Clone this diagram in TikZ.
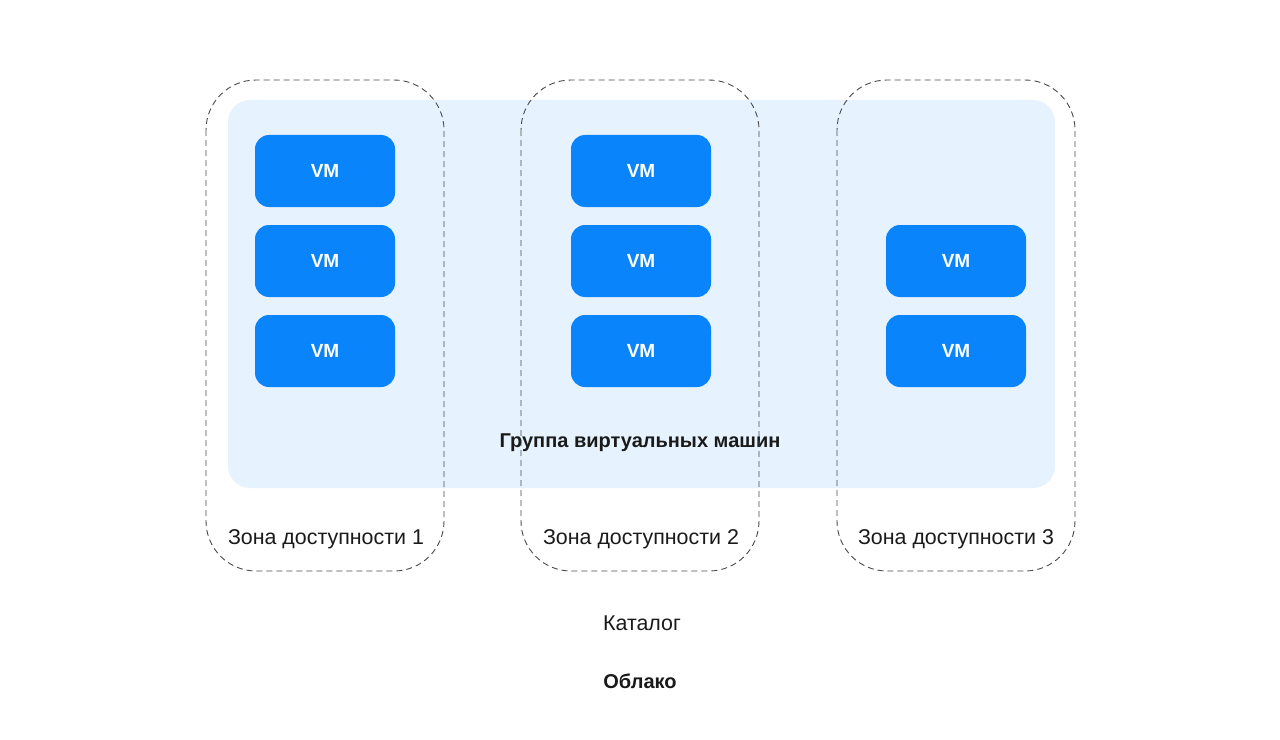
\documentclass[tikz,border=0pt]{standalone}
\usepackage{fontspec}
\setmainfont{Liberation Sans}
\definecolor{grpfill}{HTML}{E6F3FE}
\definecolor{vmblue}{HTML}{0A84FA}
\definecolor{dashgray}{HTML}{4A4A4A}
\definecolor{txt}{HTML}{1A1A1A}
\tikzset{
  vmbox/.style={fill=vmblue, rounded corners=14bp, minimum width=140bp, minimum height=72bp, inner sep=0pt, text=white, font=\fontsize{19bp}{22bp}\selectfont\bfseries},
  zonebox/.style={draw=dashgray, line width=0.9bp, dash pattern=on 6bp off 4bp, rounded corners=50bp},
  lbl/.style={text=txt, font=\fontsize{21.4bp}{25bp}\selectfont, inner sep=0pt},
  blbl/.style={text=txt, font=\fontsize{20bp}{24bp}\selectfont\bfseries, inner sep=0pt}
}
\begin{document}
\begin{tikzpicture}[x=1bp,y=-1bp]
\useasboundingbox[fill=white] (0,0) rectangle (1280,740);
% group
\fill[grpfill, rounded corners=22bp] (228,100) rectangle (1055,488);
\node[blbl] (grp) at (640,443) {Группа виртуальных машин};
% zones
\draw[zonebox] (206,80) rectangle (444,571);
\draw[zonebox] (521,80) rectangle (759,571);
\draw[zonebox] (837,80) rectangle (1075,571);
\node[lbl] (z1) at (326,539) {Зона доступности 1};
\node[lbl] (z2) at (641,539) {Зона доступности 2};
\node[lbl] (z3) at (956,539) {Зона доступности 3};
% VMs
\node[vmbox] (a1) at (325,171) {VM};
\node[vmbox] (a2) at (325,261) {VM};
\node[vmbox] (a3) at (325,351) {VM};
\node[vmbox] (b1) at (641,171) {VM};
\node[vmbox] (b2) at (641,261) {VM};
\node[vmbox] (b3) at (641,351) {VM};
\node[vmbox] (c2) at (956,261) {VM};
\node[vmbox] (c3) at (956,351) {VM};
% bottom labels
\node[lbl] (cat) at (642,623) {Каталог};
\node[blbl] (cloud) at (640,681) {Облако};
\end{tikzpicture}
\end{document}
